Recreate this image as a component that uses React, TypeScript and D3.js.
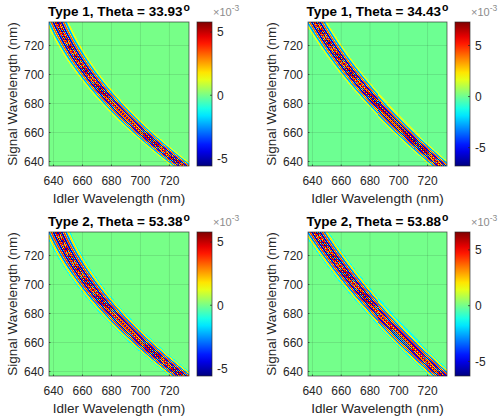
import React from "react";
import * as d3 from "d3";

// ---- data ----
const panelTypes = ["Type 1", "Type 1", "Type 2", "Type 2"];
const panelThetas = ["33.93", "34.43", "53.38", "53.88"];
// signal wavelength knots (nm) where the band centre was read
const signalKnots = [640, 660, 680, 700, 736];
// idler wavelength (nm) of the band centre at each signal knot, per panel
const centreP1 = [725, 702, 680.3, 664.5, 642.8];
const centreP2 = [725.8, 705.7, 683.6, 667.5, 642.5];
const centreP3 = [724, 703, 681, 663.3, 643.3];
const centreP4 = [725.8, 708, 686, 667.9, 643];
// colour limits (x 1e-3)
const colorMin = [-5.6, -6.8, -5.6, -6.3];
const colorMax = [5.8, 7.3, 5.8, 6.6];
// envelope width of the band (nm)
const bandWidth = [6, 6, 6.8, 6.8];
const axisTicks = [640, 660, 680, 700, 720];
const colorbarTicks = [-5, 0, 5];
const idlerRange = [636.9, 733.5];
const signalRange = [636.9, 736.2];
const cellStep = 0.69;

const centres = [centreP1, centreP2, centreP3, centreP4];

// least-squares quadratic through the read knots (smooth band centre)
function quadFit(xs: number[], ys: number[]) {
  const x0 = d3.mean(xs) as number;
  const S = [0, 0, 0, 0, 0];
  const T = [0, 0, 0];
  xs.forEach((xv, k) => {
    const t = xv - x0;
    for (let p = 0; p < 5; p++) S[p] += t ** p;
    for (let p = 0; p < 3; p++) T[p] += ys[k] * t ** p;
  });
  const M = [
    [S[0], S[1], S[2], T[0]],
    [S[1], S[2], S[3], T[1]],
    [S[2], S[3], S[4], T[2]],
  ];
  for (let c = 0; c < 3; c++) {
    for (let r = c + 1; r < 3; r++) {
      const f = M[r][c] / M[c][c];
      for (let k = c; k < 4; k++) M[r][k] -= f * M[c][k];
    }
  }
  const coef = [0, 0, 0];
  for (let r = 2; r >= 0; r--) {
    let s = M[r][3];
    for (let k = r + 1; k < 3; k++) s -= M[r][k] * coef[k];
    coef[r] = s / M[r][r];
  }
  return (xv: number) => {
    const t = xv - x0;
    return coef[0] + coef[1] * t + coef[2] * t * t;
  };
}

function jet(t: number) {
  const c = (v: number) => Math.max(0, Math.min(1, v));
  const r = c(1.5 - Math.abs(4 * t - 3));
  const g = c(1.5 - Math.abs(4 * t - 2));
  const b = c(1.5 - Math.abs(4 * t - 1));
  return d3.rgb(r * 255, g * 255, b * 255).toString();
}

const FONT = "'Liberation Sans', Arial, Helvetica, sans-serif";
const TXT = "#262626";

function Panel({ idx, ox, oy, pw }: { idx: number; ox: number; oy: number; pw: number }) {
  const left = ox + 49;
  const top = oy + 22;
  const ph = 144;
  const x = d3.scaleLinear().domain(idlerRange).range([left, left + pw]);
  const y = d3.scaleLinear().domain(signalRange).range([top + ph, top]);
  const centre = quadFit(signalKnots, centres[idx]);
  const cmin = colorMin[idx];
  const cmax = colorMax[idx];
  const color = d3.scaleSequential(jet).domain([cmin, cmax]);
  const A = Math.max(-cmin, cmax);
  const w = bandWidth[idx];

  const nx = Math.ceil((idlerRange[1] - idlerRange[0]) / cellStep);
  const ny = Math.ceil((signalRange[1] - signalRange[0]) / cellStep);
  const cells: { x0: number; y0: number; v: number }[] = [];
  for (let j = 0; j < ny; j++) {
    const s0 = signalRange[0] + j * cellStep;
    const sc = s0 + cellStep / 2;
    const c = centre(sc);
    for (let i = 0; i < nx; i++) {
      const i0 = idlerRange[0] + i * cellStep;
      const u = i0 + cellStep / 2 - c;
      if (Math.abs(u) > 1.3 * w) continue;
      const checker = (Math.floor(i / 2) + Math.floor(j / 2)) % 2 === 0 ? 1 : -1;
      const coreW = Math.exp(-((u / 1.1) ** 2));
      const core = 0.85 * coreW * checker;
      const wave = Math.cos((Math.PI * (Math.abs(u) - 1.45)) / 1.45);
      const sq = Math.sign(wave) * Math.abs(wave) ** 0.45;
      const outer = sq * Math.exp(-((u / w) ** 2)) * (1 - coreW);
      let v = A * (core + 1.05 * outer);
      v = Math.max(cmin, Math.min(cmax, v));
      if (Math.abs(v) < 0.04 * A) continue;
      cells.push({ x0: i0, y0: s0, v });
    }
  }

  const cbL = left + pw + 8;
  const cbW = 15;
  const cb = d3.scaleLinear().domain([cmin, cmax]).range([top + ph, top]);
  const gid = `jetgrad${idx}`;
  const stops = d3.range(0, 1.0001, 0.05);
  const clipId = `clip${idx}`;

  return (
    <g fontFamily={FONT}>
      <defs>
        <linearGradient id={gid} x1="0" y1="1" x2="0" y2="0">
          {stops.map((t) => (
            <stop key={t} offset={t} stopColor={jet(t)} />
          ))}
        </linearGradient>
        <clipPath id={clipId}>
          <rect x={left} y={top} width={pw} height={ph} />
        </clipPath>
      </defs>
      <rect x={left} y={top} width={pw} height={ph} fill={color(0)} />
      <g clipPath={`url(#${clipId})`} shapeRendering="crispEdges">
        {cells.map((d, k) => (
          <rect
            key={k}
            x={x(d.x0)}
            y={y(d.y0 + cellStep)}
            width={x(d.x0 + cellStep) - x(d.x0) + 0.3}
            height={y(d.y0) - y(d.y0 + cellStep) + 0.3}
            fill={color(d.v)}
          />
        ))}
      </g>
      {/* grid */}
      {axisTicks.map((t) => (
        <g key={t}>
          <line x1={x(t)} x2={x(t)} y1={top} y2={top + ph} stroke={TXT} strokeOpacity={0.15} strokeWidth={0.8} />
          <line x1={left} x2={left + pw} y1={y(t)} y2={y(t)} stroke={TXT} strokeOpacity={0.15} strokeWidth={0.8} />
          <line x1={x(t)} x2={x(t)} y1={top + ph} y2={top + ph - 1.5} stroke={TXT} strokeWidth={0.7} />
          <line x1={left} x2={left + 1.5} y1={y(t)} y2={y(t)} stroke={TXT} strokeWidth={0.7} />
          <text x={x(t)} y={top + ph + 19} textAnchor="middle" fontSize={12} fill={TXT}>
            {t}
          </text>
          <text x={left - 5} y={y(t) + 4.3} textAnchor="end" fontSize={12} fill={TXT}>
            {t}
          </text>
        </g>
      ))}
      <rect x={left} y={top} width={pw} height={ph} fill="none" stroke={TXT} strokeWidth={0.8} strokeOpacity={0.8} />
      <text x={left + pw / 2} y={top + ph + 37} textAnchor="middle" fontSize={13.5} fill={TXT}>
        Idler Wavelength (nm)
      </text>
      <text
        transform={`translate(${ox + 17},${top + ph / 2}) rotate(-90)`}
        textAnchor="middle"
        fontSize={13.5}
        fill={TXT}
      >
        Signal Wavelength (nm)
      </text>
      <text x={left + pw / 2} y={oy + 16} textAnchor="middle" fontSize={13.5} fontWeight="bold" fill="#000">
        {`${panelTypes[idx]}, Theta = ${panelThetas[idx]}`}
        <tspan fontSize={10.5} dy={-5.5} dx={1}>
          o
        </tspan>
      </text>
      {/* colorbar */}
      <rect x={cbL} y={top} width={cbW} height={ph} fill={`url(#${gid})`} />
      <rect x={cbL} y={top} width={cbW} height={ph} fill="none" stroke={TXT} strokeWidth={0.8} strokeOpacity={0.8} />
      {colorbarTicks.map((t) => (
        <g key={t}>
          <line x1={cbL + cbW} x2={cbL + cbW - 2} y1={cb(t)} y2={cb(t)} stroke={TXT} strokeWidth={0.7} />
          <text x={cbL + cbW + 5} y={cb(t) + 4.3} fontSize={12} fill={TXT}>
            {t}
          </text>
        </g>
      ))}
      <text x={cbL + 16} y={oy + 16} fontSize={11} fill="#8c8c8c">
        ×10
        <tspan fontSize={8.5} dy={-5}>
          -3
        </tspan>
      </text>
    </g>
  );
}

export default function App() {
  return (
    <svg width={504} height={419} style={{ position: "absolute", left: 0, top: 0, background: "#fff" }}>
      <rect width={504} height={419} fill="#fff" />
      <Panel idx={0} ox={0} oy={0} pw={140} />
      <Panel idx={1} ox={259} oy={0} pw={139} />
      <Panel idx={2} ox={0} oy={210} pw={140} />
      <Panel idx={3} ox={259} oy={210} pw={139} />
    </svg>
  );
}
